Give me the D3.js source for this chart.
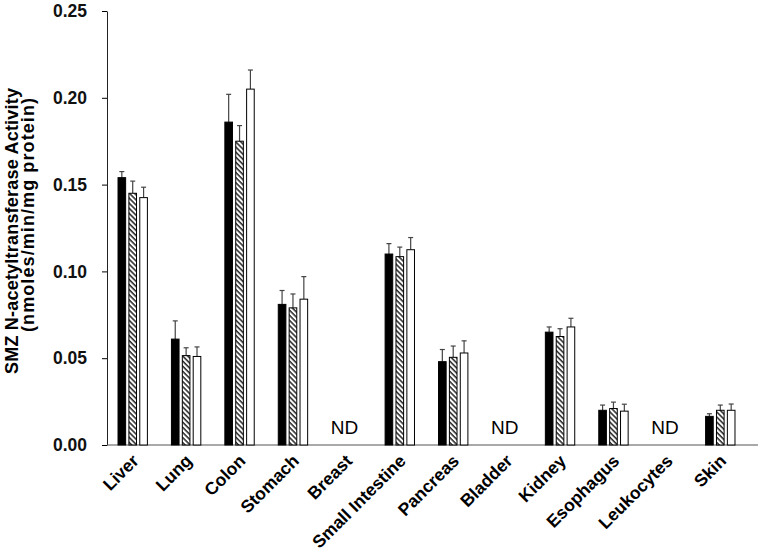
<!DOCTYPE html>
<html>
<head>
<meta charset="utf-8">
<script src="https://cdnjs.cloudflare.com/ajax/libs/d3/7.8.5/d3.min.js"></script>
<style>
  body { margin: 0; background: white; }
  svg { font-family: "Liberation Sans", Arial, sans-serif; }
</style>
</head>
<body>
<div id="chart"></div>
<script>
// Tissues on the x axis
const tissues = ["Liver", "Lung", "Colon", "Stomach", "Breast", "Small Intestine",
    "Pancreas", "Bladder", "Kidney", "Esophagus", "Leukocytes", "Skin"];

// three groups per tissue (black, hatched, white); null = not detected
const series = ["black", "hatched", "white"];
const blackVals   = [0.154, 0.061, 0.186, 0.081, null, 0.110, 0.048, null, 0.065, 0.020, null, 0.0165];
const hatchedVals = [0.145, 0.0515, 0.175, 0.079, null, 0.1085, 0.0505, null, 0.0625, 0.021, null, 0.020];
const whiteVals   = [0.1425, 0.051, 0.205, 0.084, null, 0.1125, 0.053, null, 0.068, 0.0195, null, 0.020];

// upper error (SD) for each bar
const blackErr   = [0.0035, 0.0105, 0.016, 0.008, null, 0.006, 0.007, null, 0.003, 0.003, null, 0.0015];
const hatchedErr = [0.007, 0.0045, 0.009, 0.008, null, 0.0055, 0.0065, null, 0.0045, 0.0037, null, 0.003];
const whiteErr   = [0.006, 0.0055, 0.011, 0.013, null, 0.007, 0.007, null, 0.005, 0.004, null, 0.0036];

const yTicks = [0, 0.05, 0.10, 0.15, 0.20, 0.25];

let width = 763, height = 557;
let svg = d3.select("#chart").append("svg")
    .attr("width", width)
    .attr("height", height);

// hatch pattern  (\\\\ lines)
let defs = svg.append("defs");
defs.append("pattern")
    .attr("id", "hatch")
    .attr("patternUnits", "userSpaceOnUse")
    .attr("width", 3.6)
    .attr("height", 3.6)
    .attr("patternTransform", "rotate(-45)")
    .call(p => {
        p.append("rect").attr("width", 3.6).attr("height", 3.6).attr("fill", "white");
        p.append("line").attr("x1", 1).attr("y1", 0).attr("x2", 1).attr("y2", 3.6)
            .attr("stroke", "black").attr("stroke-width", 1.3);
    });

let x0 = d3.scaleBand().domain(tissues).range([106, 747]).paddingInner(0.45).paddingOuter(0.225);
let x1 = d3.scaleBand().domain(series).range([0, x0.bandwidth()]).paddingInner(0.3);
let y = d3.scaleLinear().domain([0, 0.25]).range([445, 11]);

// y axis
let yAxis = svg.append("g")
    .attr("transform", "translate(107,0)")
    .call(d3.axisLeft(y).tickValues(yTicks).tickFormat(d3.format(".2f"))
        .tickSize(5).tickPadding(15).tickSizeOuter(0));
yAxis.selectAll("text")
    .attr("font-size", 17.5)
    .attr("font-weight", "bold")
    .attr("font-family", "Liberation Sans, Arial, sans-serif")
    .attr("fill", "#111");
yAxis.select(".domain").attr("stroke", "#222");

// x axis line (no ticks)
svg.append("line")
    .attr("x1", 107).attr("x2", 758)
    .attr("y1", y(0)).attr("y2", y(0))
    .attr("stroke", "#555").attr("stroke-width", 1.2);

// y title (two lines)
svg.append("text")
    .attr("transform", `translate(18,231) rotate(-90)`)
    .attr("text-anchor", "middle")
    .attr("font-size", 18).attr("font-weight", "bold")
    .attr("textLength", 286).attr("lengthAdjust", "spacing")
    .text("SMZ N-acetyltransferase Activity");
svg.append("text")
    .attr("transform", `translate(34,215) rotate(-90)`)
    .attr("text-anchor", "middle")
    .attr("font-size", 18).attr("font-weight", "bold")
    .attr("textLength", 234).attr("lengthAdjust", "spacing")
    .text("(nmoles/min/mg protein)");

// build rows
let rows = tissues.map((t, i) => ({
    tissue: t,
    bars: [
        { key: "black", v: blackVals[i], e: blackErr[i] },
        { key: "hatched", v: hatchedVals[i], e: hatchedErr[i] },
        { key: "white", v: whiteVals[i], e: whiteErr[i] }
    ]
}));

let fills = { black: "black", hatched: "url(#hatch)", white: "white" };

let groups = svg.selectAll("g.tissue")
    .data(rows)
    .enter().append("g")
    .attr("class", "tissue")
    .attr("transform", d => `translate(${x0(d.tissue)},0)`);

let bars = groups.selectAll("g.bar")
    .data(d => d.bars.filter(b => b.v !== null))
    .enter().append("g")
    .attr("class", "bar");

// error bars (upper only)
bars.append("line")
    .attr("x1", d => x1(d.key) + x1.bandwidth() / 2)
    .attr("x2", d => x1(d.key) + x1.bandwidth() / 2)
    .attr("y1", d => y(d.v))
    .attr("y2", d => y(d.v + d.e))
    .attr("stroke", "#444").attr("stroke-width", 1.2);
bars.append("line")
    .attr("x1", d => x1(d.key) + x1.bandwidth() / 2 - 2.5)
    .attr("x2", d => x1(d.key) + x1.bandwidth() / 2 + 2.5)
    .attr("y1", d => y(d.v + d.e))
    .attr("y2", d => y(d.v + d.e))
    .attr("stroke", "#444").attr("stroke-width", 1.2);

bars.append("rect")
    .attr("x", d => x1(d.key))
    .attr("y", d => y(d.v))
    .attr("width", x1.bandwidth())
    .attr("height", d => y(0) - y(d.v))
    .attr("fill", d => fills[d.key])
    .attr("stroke", "black")
    .attr("stroke-width", 1);

// ND labels
groups.filter(d => d.bars[0].v === null)
    .append("text")
    .attr("x", x0.bandwidth() / 2 - 2)
    .attr("y", 434)
    .attr("text-anchor", "middle")
    .attr("font-size", 19)
    .text("ND");

// category labels, rotated 45 degrees about their end point
let labelX = d => x0(d) + x0.bandwidth() / 2 + 7;
let labelY = 462;
svg.append("g").attr("class", "cats")
  .selectAll("text")
    .data(tissues)
    .enter().append("text")
    .attr("x", labelX)
    .attr("y", labelY)
    .attr("transform", d => `rotate(-45 ${labelX(d)} ${labelY})`)
    .attr("text-anchor", "end")
    .attr("font-size", 17.5)
    .attr("font-weight", "bold")
    .text(d => d);
</script>
</body>
</html>
